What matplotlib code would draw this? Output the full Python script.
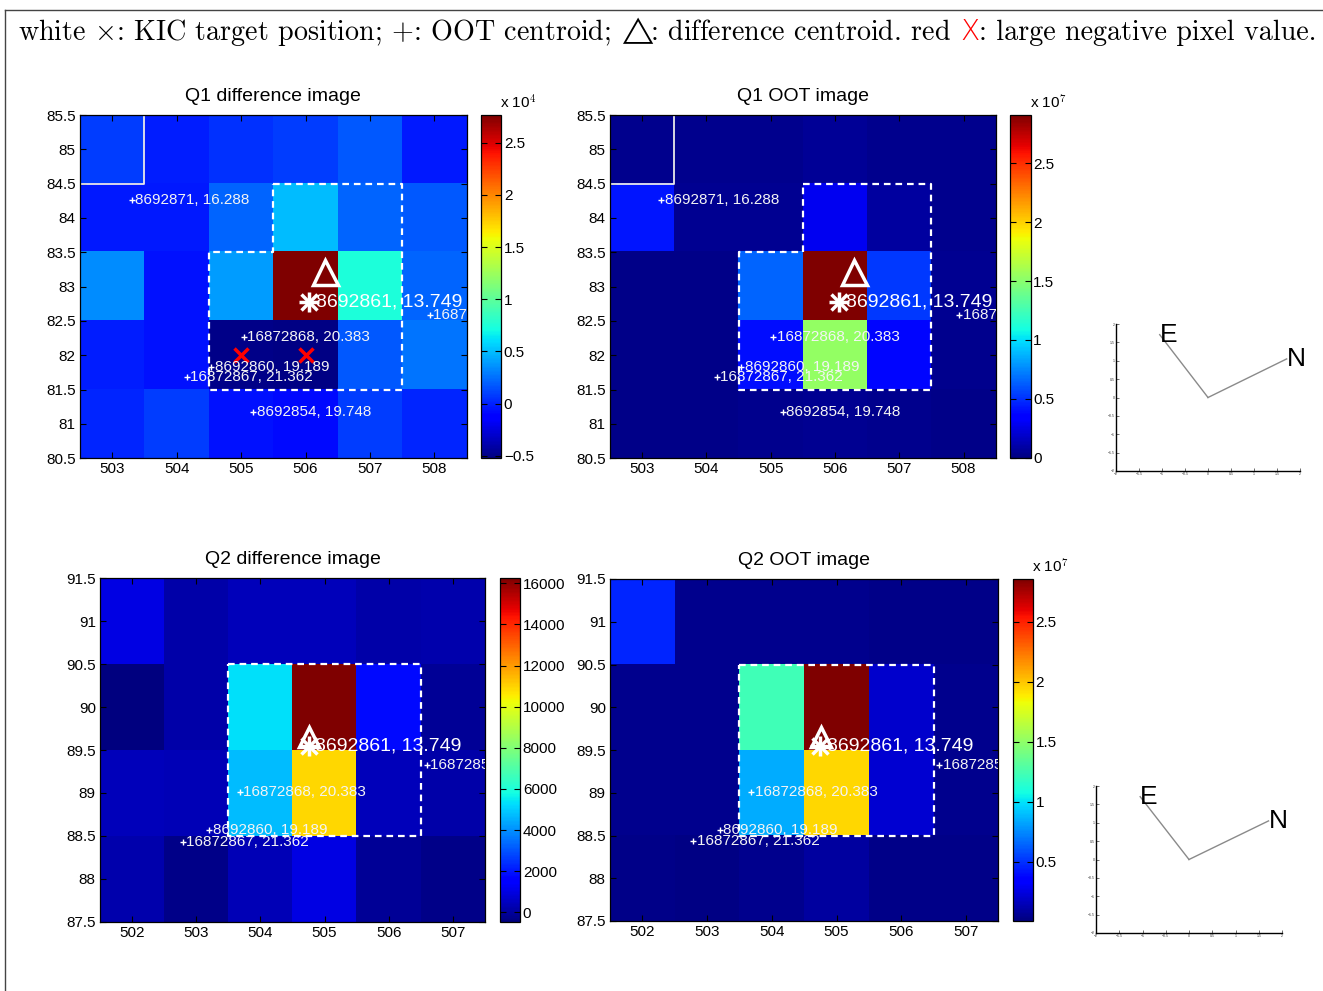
import numpy as np
import matplotlib
matplotlib.use("Agg")
import matplotlib.pyplot as plt
from matplotlib.transforms import ScaledTranslation
from matplotlib.lines import Line2D

# ---------------- data ----------------
q1_cols = [503, 504, 505, 506, 507, 508]
q1_rows = [85, 84, 83, 82, 81]
q2_cols = [502, 503, 504, 505, 506, 507]
q2_rows = [91, 90, 89, 88]

# Q1 difference image (x 1e4), rows top (85) -> bottom (81)
q1_diff = [
    [0.08, -0.02, 0.05, 0.08, 0.18, -0.03],
    [-0.03, -0.03, 0.21, 0.50, 0.21, 0.18],
    [0.34, -0.05, 0.40, 2.77, 0.74, 0.21],
    [-0.02, -0.05, -0.49, -0.50, 0.18, 0.27],
    [0.01, 0.08, -0.05, -0.08, 0.08, 0.01],
]
# Q1 OOT image (x 1e7)
q1_oot = [
    [0.03, 0.03, 0.03, 0.06, 0.04, 0.03],
    [0.42, 0.05, 0.05, 0.28, 0.08, 0.04],
    [0.02, 0.02, 0.65, 2.91, 0.53, 0.05],
    [0.02, 0.02, 0.40, 1.54, 0.38, 0.03],
    [0.02, 0.02, 0.03, 0.05, 0.03, 0.02],
]
# Q2 difference image, rows top (91) -> bottom (88)
q2_diff = [
    [1000, 170, 450, 450, 170, 230],
    [-450, 140, 5310, 16240, 1800, -120],
    [450, 380, 4740, 10950, 450, 170],
    [230, -270, 380, 1035, -120, -270],
]
# Q2 OOT image (x 1e7)
q2_oot = [
    [0.47, 0.04, 0.04, 0.045, 0.035, 0.035],
    [0.05, 0.04, 1.22, 2.856, 0.20, 0.04],
    [0.04, 0.04, 0.85, 1.95, 0.21, 0.04],
    [0.035, 0.025, 0.05, 0.09, 0.035, 0.03],
]

q1_diff_clim = [-0.525, 2.766]
q1_oot_clim = [-0.005, 2.91]
q2_diff_clim = [-450, 16240]
q2_oot_clim = [0.006, 2.856]

q1_diff_cticks = [-0.5, 0, 0.5, 1, 1.5, 2, 2.5]
q1_oot_cticks = [0, 0.5, 1, 1.5, 2, 2.5]
q2_diff_cticks = [0, 2000, 4000, 6000, 8000, 10000, 12000, 14000, 16000]
q2_oot_cticks = [0.5, 1, 1.5, 2, 2.5]

q1_star_names = ["8692871, 16.288", "16872868, 20.383", "8692860, 19.189",
                 "16872867, 21.362", "8692854, 19.748", "16872858, 21.017"]
q1_star_x = [503.30, 505.04, 504.54, 504.16, 505.19, 507.93]
q1_star_y = [84.26, 82.27, 81.83, 81.69, 81.17, 82.59]
q2_star_names = ["16872868, 20.383", "8692860, 19.189", "16872867, 21.362",
                 "16872858, 21.017"]
q2_star_x = [503.68, 503.20, 502.79, 506.59]
q2_star_y = [89.01, 88.57, 88.43, 89.33]

target_name = "8692861, 13.749"
q1_target = [506.06, 82.78]
q1_diff_centroid = [506.30, 83.22]
q2_target = [504.75, 89.55]
q2_diff_centroid = [504.76, 89.65]
q1_neg_x = [505, 506]
q1_neg_y = [82, 82]

q1_aperture_x = [505.5, 507.5, 507.5, 504.5, 504.5, 505.5, 505.5]
q1_aperture_y = [84.5, 84.5, 81.5, 81.5, 83.5, 83.5, 84.5]
q2_aperture_x = [503.5, 506.5, 506.5, 503.5, 503.5]
q2_aperture_y = [90.5, 90.5, 88.5, 88.5, 90.5]
q1_edge_x = [502.5, 503.5, 503.5]
q1_edge_y = [84.5, 84.5, 85.5]

compass_north = [1.71, 1.05]
compass_east = [-1.05, 1.71]

# ---------------- figure ----------------
W, H = 1323, 991
plt.rcParams['font.family'] = ['Liberation Sans', 'DejaVu Sans']
plt.rcParams['mathtext.fontset'] = 'cm'
fig = plt.figure(figsize=(W / 100, H / 100), dpi=100, facecolor='white')


def px_axes(x0, y0, x1, y1):
    return fig.add_axes([x0 / W, 1 - y1 / H, (x1 - x0) / W, (y1 - y0) / H])


def fmt(v):
    s = "%g" % v
    return s.replace("-", "\u2212")


def image_panel(ax, cax, data, cols, rows, clim, cticks, title, exp_label):
    data = np.asarray(data, dtype=float)
    x0, x1 = min(cols) - 0.5, max(cols) + 0.5
    y0, y1 = min(rows) - 0.5, max(rows) + 0.5
    im = ax.imshow(data, cmap='jet', vmin=clim[0], vmax=clim[1],
                   extent=(x0, x1, y0, y1), origin='upper',
                   aspect='auto', interpolation='nearest')
    ax.set_xlim(x0, x1)
    ax.set_ylim(y0, y1)
    ax.set_xticks(cols)
    ax.set_xticklabels([fmt(c) for c in cols])
    yt = np.arange(y0, y1 + 0.25, 0.5)
    ax.set_yticks(yt)
    ax.set_yticklabels([fmt(v) for v in yt])
    ax.tick_params(direction='in', top=True, right=True, length=4,
                   width=0.8, labelsize=11, pad=3)
    for sp in ax.spines.values():
        sp.set_linewidth(0.9)
    ax.set_title(title, fontsize=14, pad=10)
    cb = fig.colorbar(im, cax=cax)
    cb.set_ticks(cticks)
    cb.set_ticklabels([fmt(v) for v in cticks])
    cb.outline.set_linewidth(0.9)
    cax.tick_params(direction='in', left=True, right=True, length=4,
                    width=0.8, labelsize=11, pad=2)
    if exp_label:
        bb = cax.get_position()
        fig.text(bb.x1 - 1 / W, bb.y1 + 3 / H, "x 10$^{%s}$" % exp_label,
                 fontsize=11, ha='left', va='bottom')
    return im


def star_labels(ax, xs, ys, names):
    off = ScaledTranslation(2.5 / 72, 0, fig.dpi_scale_trans)
    for x, y, n in zip(xs, ys, names):
        ax.plot([x], [y], '+', color='white', ms=4, mew=1, clip_on=True)
        ax.text(x, y, n, transform=ax.transData + off, color='#f4f4f4',
                fontsize=11, va='center', ha='left', clip_on=True)


def markers(ax, target, centroid, tri_ms):
    ax.plot([centroid[0]], [centroid[1]], '^', ms=tri_ms, mfc='none',
            mec='white', mew=2.5)
    ax.plot([target[0]], [target[1]], 'x', ms=11, mew=2.5, color='white')
    ax.plot([target[0]], [target[1]], '+', ms=14, mew=2.5, color='white')
    off = ScaledTranslation(5 / 72, 0, fig.dpi_scale_trans)
    ax.text(target[0], target[1], target_name, transform=ax.transData + off,
            color='white', fontsize=14, va='center', ha='left', clip_on=True)


def compass(ax):
    ax.plot([0, compass_east[0]], [0, compass_east[1]], color='#8a8a8a', lw=1)
    ax.plot([0, compass_north[0]], [0, compass_north[1]], color='#8a8a8a', lw=1)
    ax.text(compass_east[0], compass_east[1], "E", fontsize=19, ha='left', va='center')
    ax.text(compass_north[0], compass_north[1], "N", fontsize=19, ha='left', va='center')
    ax.set_xlim(-2, 2)
    ax.set_ylim(-2, 2)
    t = np.arange(-2, 2.01, 0.5)
    ax.set_xticks(t)
    ax.set_yticks(t)
    ax.set_xticklabels([fmt(v) for v in t])
    ax.set_yticklabels([fmt(v) for v in t])
    ax.tick_params(direction='in', length=2, width=0.5, labelsize=2.5,
                   pad=1, colors='#333333')
    ax.spines['top'].set_visible(False)
    ax.spines['right'].set_visible(False)
    ax.spines['left'].set_linewidth(1)
    ax.spines['bottom'].set_linewidth(1)
    ax.patch.set_alpha(0)


# Q1 difference
ax1 = px_axes(80, 115, 466.7, 458.3)
cax1 = px_axes(481, 115, 501, 458.3)
image_panel(ax1, cax1, q1_diff, q1_cols, q1_rows, q1_diff_clim, q1_diff_cticks,
            "Q1 difference image", "4")
ax1.plot(q1_edge_x, q1_edge_y, color='#e8e8e8', lw=1.3)
ax1.plot(q1_aperture_x, q1_aperture_y, color='white', lw=1.6, ls=(0, (3, 2.2)))
star_labels(ax1, q1_star_x, q1_star_y, q1_star_names)
markers(ax1, q1_target, q1_diff_centroid, 18)
ax1.plot(q1_neg_x, q1_neg_y, 'x', color='red', ms=10, mew=2.5, ls='none')

# Q1 OOT
ax2 = px_axes(610, 115, 995.7, 458.3)
cax2 = px_axes(1010, 115, 1030.5, 458.3)
image_panel(ax2, cax2, q1_oot, q1_cols, q1_rows, q1_oot_clim, q1_oot_cticks,
            "Q1 OOT image", "7")
ax2.plot(q1_edge_x, q1_edge_y, color='#e8e8e8', lw=1.3)
ax2.plot(q1_aperture_x, q1_aperture_y, color='white', lw=1.6, ls=(0, (3, 2.2)))
star_labels(ax2, q1_star_x, q1_star_y, q1_star_names)
markers(ax2, q1_target, q1_diff_centroid, 18)

# Q2 difference
ax3 = px_axes(100, 578.3, 485, 921.7)
cax3 = px_axes(500, 578.3, 520, 921.7)
image_panel(ax3, cax3, q2_diff, q2_cols, q2_rows, q2_diff_clim, q2_diff_cticks,
            "Q2 difference image", None)
ax3.plot(q2_aperture_x, q2_aperture_y, color='white', lw=1.6, ls=(0, (3, 2.2)))
star_labels(ax3, q2_star_x, q2_star_y, q2_star_names)
markers(ax3, q2_target, q2_diff_centroid, 14)

# Q2 OOT
ax4 = px_axes(610, 579, 998.3, 921)
cax4 = px_axes(1012.7, 579, 1032.7, 921)
image_panel(ax4, cax4, q2_oot, q2_cols, q2_rows, q2_oot_clim, q2_oot_cticks,
            "Q2 OOT image", "7")
ax4.plot(q2_aperture_x, q2_aperture_y, color='white', lw=1.6, ls=(0, (3, 2.2)))
star_labels(ax4, q2_star_x, q2_star_y, q2_star_names)
markers(ax4, q2_target, q2_diff_centroid, 14)

# compasses
compass(px_axes(1116, 324, 1300, 471))
compass(px_axes(1096, 786, 1282, 933))

# frame lines
fig.add_artist(Line2D([5 / W, 1], [1 - 10 / H, 1 - 10 / H],
                      transform=fig.transFigure, color='#444444', lw=1))
fig.add_artist(Line2D([5 / W, 5 / W], [0, 1 - 10 / H],
                      transform=fig.transFigure, color='#444444', lw=1))

# header line
renderer = fig.canvas.get_renderer()
pieces = [
    (r"white $\times$: KIC target position; $+$: OOT centroid; $\!\triangle\!\!$: difference centroid. red", 'black', 'cmr10', 'normal'),
    ("X", 'red', 'DejaVu Sans', 200),
    (": large negative pixel value.", 'black', 'cmr10', 'normal'),
]


def draw_header(fs):
    x = 18.0
    made = []
    for i, (s, c, fam, wt) in enumerate(pieces):
        if i == 1:
            x += fs * 0.45
        t = fig.text(x / W, 1 - 40 / H, s, color=c, family=fam, fontsize=fs,
                     fontweight=wt, va='baseline', ha='left')
        made.append(t)
        x = t.get_window_extent(renderer).x1
    return made, x


made, xend = draw_header(16)
scale = (1318 - 18) / (xend - 18)
for t in made:
    t.remove()
draw_header(16 * scale)

fig.savefig("out.png", dpi=100, facecolor='white')
